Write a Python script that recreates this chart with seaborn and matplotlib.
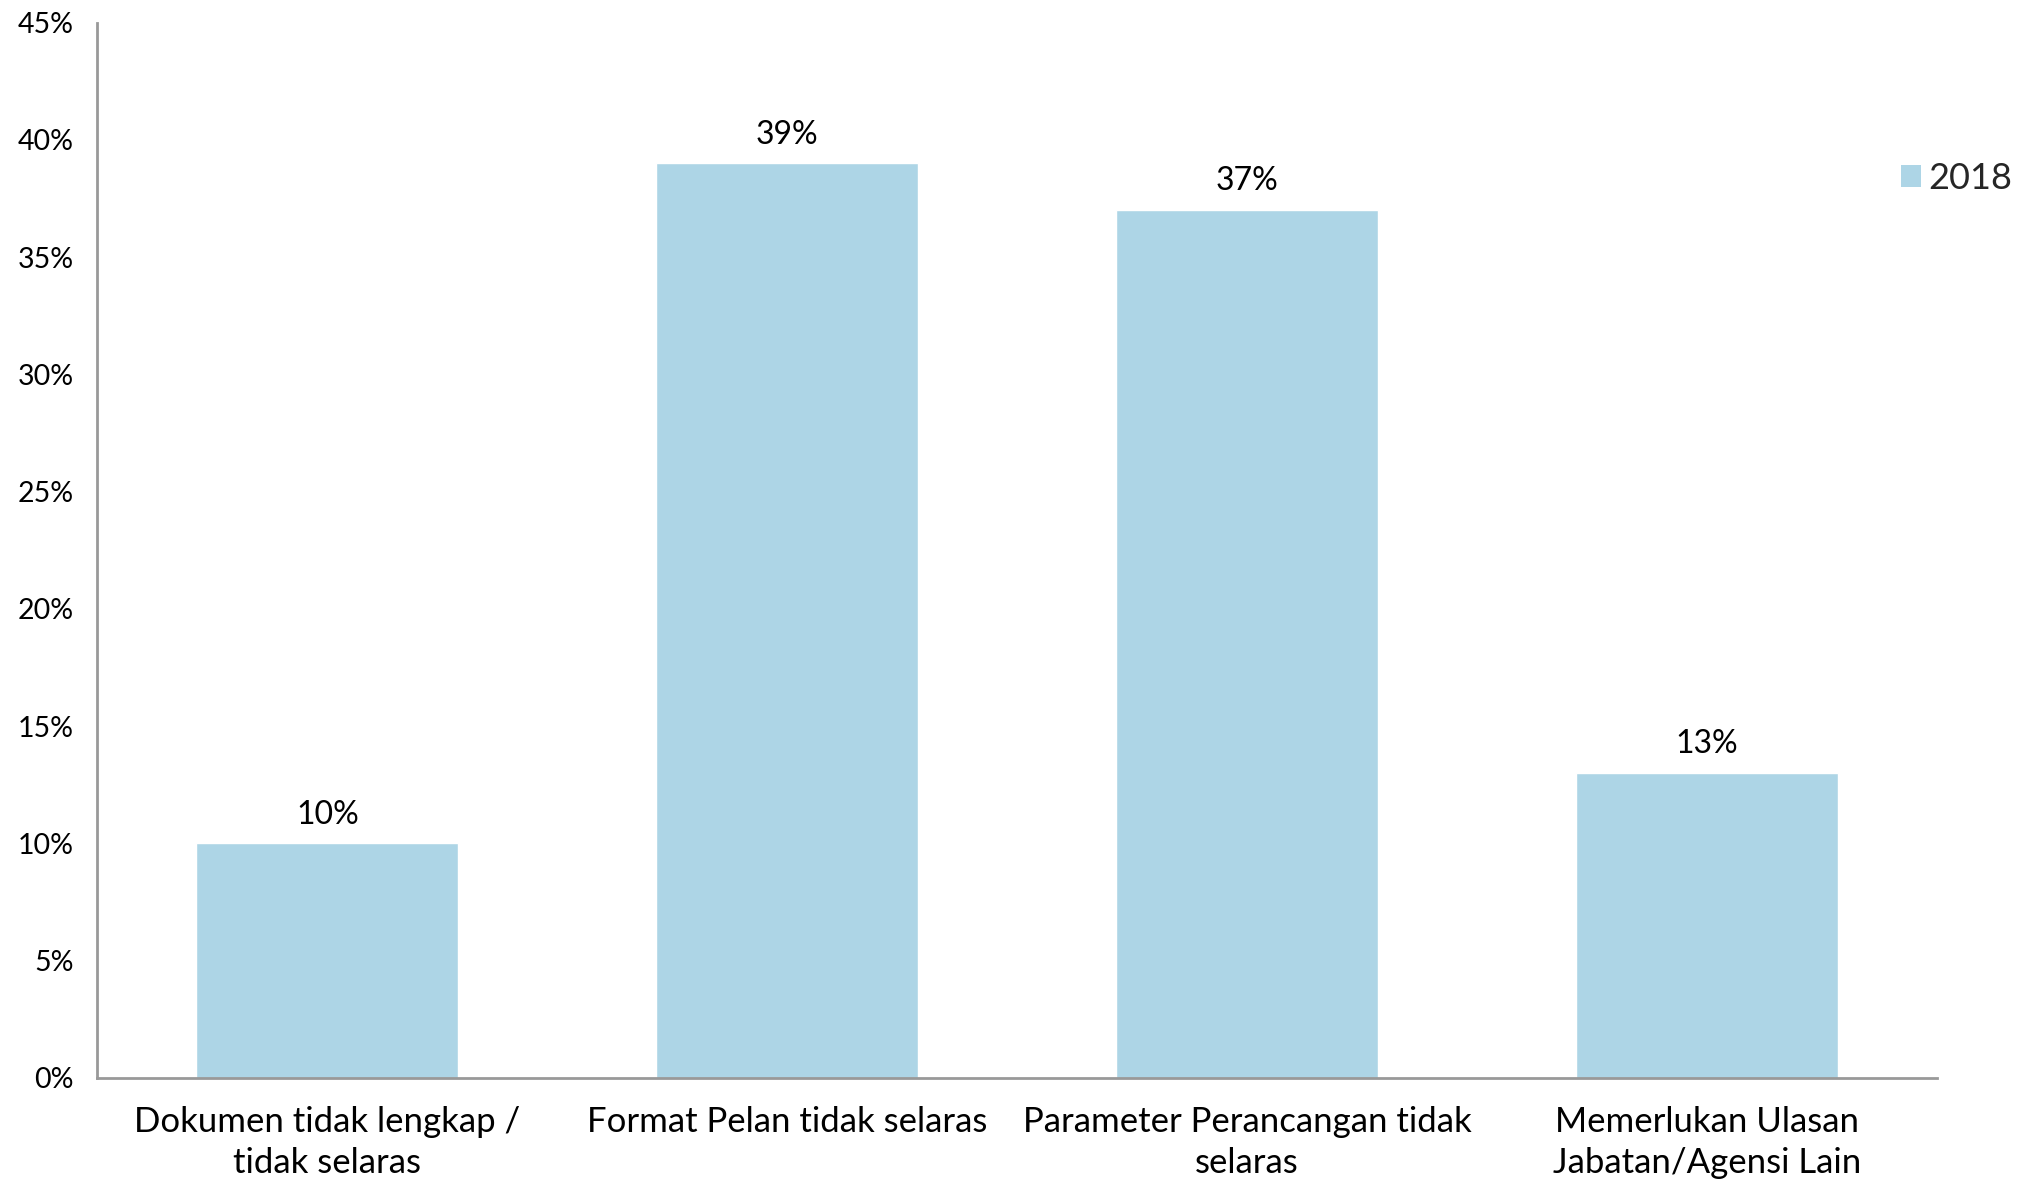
import matplotlib.pyplot as plt
import seaborn as sns
import pandas as pd
from matplotlib.ticker import FuncFormatter
from matplotlib.patches import Patch

sns.set_theme(style="white")
plt.rcParams['font.family'] = ['Lato', 'DejaVu Sans']

# data
kategori = [
    "Dokumen tidak lengkap /\ntidak selaras",
    "Format Pelan tidak selaras",
    "Parameter Perancangan tidak\nselaras",
    "Memerlukan Ulasan\nJabatan/Agensi Lain",
]
nilai_2018 = [10, 39, 37, 13]
siri = "2018"
y_ticks = [0, 5, 10, 15, 20, 25, 30, 35, 40, 45]

df = pd.DataFrame({"Kategori": kategori, "Peratus": nilai_2018})

warna = "#add5e6"

fig = plt.figure(figsize=(20.28, 11.79), dpi=100)
ax = fig.add_axes([0.048, 0.0857, 0.907, 0.895])

sns.barplot(data=df, x="Kategori", y="Peratus", color=warna, width=0.57,
            saturation=1, ax=ax)

for p, v in zip(ax.patches, nilai_2018):
    ax.annotate(f"{v}%", (p.get_x() + p.get_width() / 2, p.get_height()),
                xytext=(0, 10), textcoords="offset points",
                ha="center", va="bottom", fontsize=23, color="black")

ax.set_xlim(-0.5, 3.5)
ax.set_ylim(0, 45)
ax.set_yticks(y_ticks)
ax.yaxis.set_major_formatter(FuncFormatter(lambda v, _: f"{v:.0f}%"))
ax.tick_params(axis="y", labelsize=20.5, length=0, pad=17, colors="black")
ax.tick_params(axis="x", labelsize=25, length=0, pad=20, colors="black")
for t in ax.get_xticklabels():
    t.set_linespacing(1.35)
ax.set_xlabel("")
ax.set_ylabel("")

for s in ["top", "right"]:
    ax.spines[s].set_visible(False)
for s in ["left", "bottom"]:
    ax.spines[s].set_color("#999999")
    ax.spines[s].set_linewidth(2)

handle = Patch(facecolor=warna, edgecolor="none", label=siri)
fig.legend(handles=[handle], loc="center left", bbox_to_anchor=(0.9215, 0.849),
           frameon=False, fontsize=26, handlelength=0.55, handleheight=0.55,
           handletextpad=0.2)

fig.savefig("out.png", dpi=100)
